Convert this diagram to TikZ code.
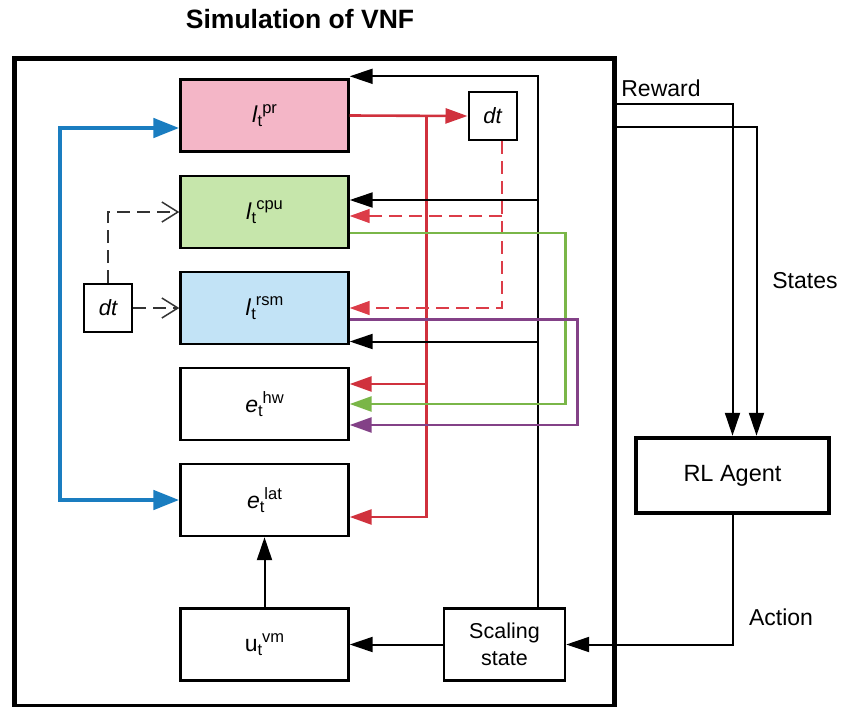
\documentclass[tikz,border=0pt]{standalone}
\usepackage{fontspec}
\setmainfont{Liberation Sans}
\usetikzlibrary{arrows.meta,calc}

\definecolor{vred}{HTML}{D0313D}
\definecolor{vdash}{HTML}{DC3C48}
\definecolor{vgreen}{HTML}{7AB648}
\definecolor{vpurple}{HTML}{834187}
\definecolor{vblue}{HTML}{1A7DC0}
\definecolor{fillpink}{HTML}{F4B6C7}
\definecolor{fillgreen}{HTML}{C6E6AB}
\definecolor{fillblue}{HTML}{C2E3F6}

% state variable label: base symbol, subscript t, then superscript
\newcommand\smallsz{\fontsize{16.5}{16.5}\selectfont}
\newcommand\tvar[2]{#1\raisebox{-4pt}{\smallsz t}\raisebox{9.5pt}{\smallsz #2}}

\tikzset{
  varbox/.style={draw, line width=2.4pt, minimum width=168pt, minimum height=72pt,
    inner sep=0pt, font=\fontsize{23}{25}\selectfont},
  dtbox/.style={draw, line width=2pt, minimum size=48pt, inner sep=0pt,
    font=\fontsize{22}{24}\selectfont\itshape},
  lbl/.style={font=\fontsize{23}{25}\selectfont},
  tip/.style={-{Triangle[length=23pt,width=15pt]}},
  blk/.style={draw=black, line width=2pt, tip},
  redl/.style={draw=vred, line width=2.6pt, -{Triangle[length=22pt,width=15pt]}, vred},
  reddash/.style={draw=vdash, line width=1.5pt, dash pattern=on 13pt off 7pt,
    -{Triangle[length=20pt,width=14pt]}, vdash},
  grn/.style={draw=vgreen, line width=2.6pt, -{Triangle[length=22pt,width=15pt]}, vgreen},
  pur/.style={draw=vpurple, line width=2.6pt, -{Triangle[length=22pt,width=15pt]}, vpurple},
  kdash/.style={draw=black!80, line width=1.5pt, dash pattern=on 13pt off 7pt,
    -{Straight Barb[length=16pt,width=20pt]}},
  bluel/.style={draw=vblue, line width=4.8pt,
    {Triangle[length=26pt,width=19pt]}-{Triangle[length=26pt,width=19pt]}, vblue},
}

\begin{document}
\begin{tikzpicture}[x=1pt,y=-1pt]
\useasboundingbox (0,0) rectangle (841,707);

% title and simulation frame
\node[font=\fontsize{26.5}{29}\selectfont\bfseries] (title) at (300,19) {Simulation of VNF};
\node[draw, line width=4.5pt, minimum width=600pt, minimum height=648pt,
  inner sep=0pt, anchor=north west] (sim) at (12,56) {};

% state and metric boxes
\node[varbox, fill=fillpink]  (lpr)  at (264.5,115.5) {\tvar{\textit{l}}{pr}};
\node[varbox, fill=fillgreen] (lcpu) at (264.5,212)   {\tvar{\textit{l}}{cpu}};
\node[varbox, fill=fillblue]  (lrsm) at (264.5,308)   {\tvar{\textit{l}}{rsm}};
\node[varbox] (ehw)  at (264.5,404)   {\tvar{\textit{e}}{hw}};
\node[varbox] (elat) at (264.5,500)   {\tvar{\textit{e}}{lat}};
\node[varbox] (uvm)  at (264.5,644.5) {\tvar{u}{vm}};
\node[varbox, minimum width=121pt, align=center, font=\fontsize{21.5}{27}\selectfont]
  (scal) at (504.5,644.5) {Scaling\\state};
\node[dtbox] (dtA) at (492.5,116) {dt};
\node[dtbox] (dtB) at (108,308) {dt};

% agent
\node[draw, line width=4.5pt, minimum width=193pt, minimum height=75pt, inner sep=0pt,
  font=\fontsize{23.5}{25}\selectfont] (rl) at (732.5,475.5) {RL Agent};

% helper coordinates
\coordinate (bl) at (60,300);
\coordinate (b1) at ($(lpr.west)+(0,12.5)$);
\coordinate (rx) at ($(lpr.east)+(77,0)$);
\coordinate (eh1) at ($(ehw.east)+(0,-20)$);
\coordinate (el1) at ($(elat.east)+(0,17)$);
\coordinate (dx) at ($(dtA.south)+(9.5,0)$);
\coordinate (c1) at ($(lcpu.east)+(0,4)$);
\coordinate (kx) at ($(scal.north)+(33,0)$);
\coordinate (k0) at ($(lpr.north east)+(0,-2)$);
\coordinate (k1) at ($(lcpu.east)+(0,-12)$);
\coordinate (k2) at ($(lrsm.east)+(0,33.5)$);
\coordinate (ry) at (0,104);
\coordinate (sy) at (0,127);
\coordinate (rs) at ($(rl.north)+(24,0)$);

% blue feed into pr and latency
\draw[bluel] (b1) -- (bl |- b1) -- (bl |- elat.west) -- (elat.west);

% red: pr to dt and to metrics
\draw[redl] (lpr.east) -- (dtA.west);
\draw[redl] (rx) |- (el1);
\draw[redl] (rx |- eh1) -- (eh1);

% red dashed: dt back to cpu and rsm
\draw[reddash] (dx) |- (lrsm.east);
\draw[reddash] (dx |- c1) -- (c1);

% black: scaling state feedback
\draw[blk] (kx) |- (k0);
\draw[blk] (kx |- k1) -- (k1);
\draw[blk] (kx |- k2) -- (k2);

% green and purple to hw
\draw[grn] ($(lcpu.east)+(0,21)$) -- ++(216,0) |- (ehw.east);
\draw[pur] ($(lrsm.east)+(0,11.5)$) -- ++(228,0) |- ($(ehw.east)+(0,21)$);

% black dashed from left dt
\draw[kdash] (dtB.north) |- (lcpu.west);
\draw[kdash] (dtB.east) -- (lrsm.west);

% vertical and bottom connections
\draw[blk] (uvm.north) -- (elat.south);
\draw[blk] (scal.west) -- (uvm.east);
\draw[blk] (rl.south) |- (scal.east);

% reward and states
\draw[blk] (sim.east |- ry) -| (rl.north);
\draw[blk] (sim.east |- sy) -| (rs);

\node[lbl] (lreward) at (661,88) {Reward};
\node[lbl] (lstates) at (805,281) {States};
\node[lbl] (laction) at (781,617) {Action};
\end{tikzpicture}
\end{document}
